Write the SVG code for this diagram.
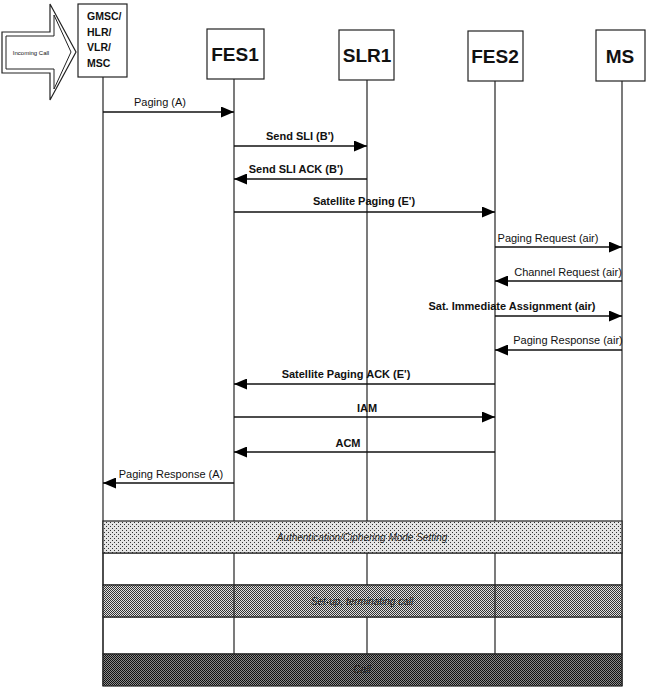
<svg xmlns="http://www.w3.org/2000/svg" width="650" height="688" viewBox="0 0 650 688">
<defs>
<style>
.box{fill:#fff;stroke:#222;stroke-width:1.2}
.life{stroke:#222;stroke-width:1.2;fill:none}
.msg{stroke:#111;stroke-width:1.3;fill:none;marker-end:url(#ah)}
.lb{font-family:"Liberation Sans",Arial,sans-serif;font-size:11px;font-weight:bold;fill:#111;text-anchor:middle}
.lr{font-family:"Liberation Sans",Arial,sans-serif;font-size:11px;fill:#111;text-anchor:middle}
.big{font-family:"Liberation Sans",Arial,sans-serif;font-size:19px;font-weight:bold;fill:#111;text-anchor:middle}
.small{font-family:"Liberation Sans",Arial,sans-serif;font-size:10.5px;font-weight:bold;fill:#111}
.band{stroke:#222;stroke-width:1.2}
.bt{font-family:"Liberation Sans",Arial,sans-serif;font-size:10px;font-style:italic;fill:#222;text-anchor:middle}
.cell{fill:#fff;stroke:#222;stroke-width:1}
</style>
<marker id="ah" markerUnits="userSpaceOnUse" markerWidth="13" markerHeight="11" refX="13" refY="5.5" orient="auto">
<path d="M0,0 L13,5.5 L0,11 z" fill="#000"/>
</marker>
<pattern id="p1" width="4" height="4" patternUnits="userSpaceOnUse">
<rect width="4" height="4" fill="#e4e4e4"/>
<rect x="0" y="0" width="1" height="1" fill="#333"/>
<rect x="2" y="2" width="1" height="1" fill="#333"/>
</pattern>
<pattern id="p2" width="2" height="2" patternUnits="userSpaceOnUse">
<rect width="2" height="2" fill="#e0e0e0"/>
<rect x="0" y="0" width="1" height="1" fill="#333"/>
<rect x="1" y="1" width="1" height="1" fill="#333"/>
</pattern>
<pattern id="p3" width="2" height="2" patternUnits="userSpaceOnUse">
<rect width="2" height="2" fill="#8a8a8a"/>
<rect x="0" y="0" width="1" height="1" fill="#111"/>
<rect x="1" y="1" width="1" height="1" fill="#111"/>
</pattern>
</defs>
<rect width="650" height="688" fill="#fff"/>

<!-- table rows beneath -->
<g id="rows">
<rect class="cell" x="103" y="553" width="519" height="32"/>
<rect class="cell" x="103" y="617" width="519" height="37"/>
</g>

<g id="lifelines">
<line class="life" x1="103" y1="77" x2="103" y2="686"/>
<line class="life" x1="234" y1="79" x2="234" y2="654"/>
<line class="life" x1="367" y1="80" x2="367" y2="654"/>
<line class="life" x1="495" y1="81" x2="495" y2="654"/>
<line class="life" x1="622" y1="81" x2="622" y2="686"/>
</g>

<g id="incoming">
<polygon points="2,32 50,32 50,4 76,52 50,100 50,73 2,73" fill="#fff" stroke="#222" stroke-width="1.2"/>
<polygon points="6,36 54,36 54,15 71,52 54,89 54,69 6,69" fill="none" stroke="#222" stroke-width="1"/>
<text x="31" y="54.5" style="font-family:'Liberation Sans',Arial,sans-serif;font-size:6px;fill:#111;text-anchor:middle">Incoming Call</text>
</g>

<g id="gmsc">
<rect class="box" x="78" y="4" width="49" height="73"/>
<text class="small" x="87" y="20">GMSC/</text>
<text class="small" x="87" y="36">HLR/</text>
<text class="small" x="87" y="51">VLR/</text>
<text class="small" x="87" y="67">MSC</text>
</g>
<g id="fes1">
<rect class="box" x="207" y="29" width="57" height="50"/>
<text class="big" x="235" y="61">FES1</text>
</g>
<g id="slr1">
<rect class="box" x="339" y="30" width="55" height="50"/>
<text class="big" x="367" y="62">SLR1</text>
</g>
<g id="fes2">
<rect class="box" x="468" y="31" width="55" height="50"/>
<text class="big" x="495" y="63">FES2</text>
</g>
<g id="ms">
<rect class="box" x="596" y="30" width="49" height="51"/>
<text class="big" x="620" y="63">MS</text>
</g>

<g id="connectors">
<line class="msg" x1="103" y1="112" x2="234" y2="112"/>
<text class="lr" x="160" y="106">Paging (A)</text>

<line class="msg" x1="234" y1="146" x2="367" y2="146"/>
<text class="lb" x="300" y="140">Send SLI (B')</text>

<line class="msg" x1="367" y1="179" x2="234" y2="179"/>
<text class="lb" x="296" y="173">Send SLI ACK (B')</text>

<line class="msg" x1="234" y1="212" x2="495" y2="212"/>
<text class="lb" x="364" y="205">Satellite Paging (E')</text>

<line class="msg" x1="495" y1="247" x2="622" y2="247"/>
<text class="lr" x="548" y="242">Paging Request (air)</text>

<line class="msg" x1="622" y1="281" x2="495" y2="281"/>
<text class="lr" x="568" y="276">Channel Request (air)</text>

<line class="msg" x1="495" y1="316" x2="622" y2="316"/>
<text class="lb" x="512" y="310">Sat. Immediate Assignment (air)</text>

<line class="msg" x1="622" y1="350" x2="495" y2="350"/>
<text class="lr" x="568" y="344">Paging Response (air)</text>

<line class="msg" x1="495" y1="384" x2="234" y2="384"/>
<text class="lb" x="346" y="378">Satellite Paging ACK (E')</text>

<line class="msg" x1="234" y1="417" x2="495" y2="417"/>
<text class="lb" x="367" y="412">IAM</text>

<line class="msg" x1="495" y1="452" x2="234" y2="452"/>
<text class="lb" x="348" y="447">ACM</text>

<line class="msg" x1="234" y1="483" x2="103" y2="483"/>
<text class="lr" x="171" y="478">Paging Response (A)</text>
</g>

<g id="band1">
<rect class="band" x="103" y="521" width="519" height="32" fill="url(#p1)"/>
<text class="bt" x="362" y="541">Authentication/Ciphering Mode Setting</text>
</g>
<g id="band2">
<rect class="band" x="103" y="585" width="519" height="32" fill="url(#p2)"/>
<line class="life" x1="234" y1="585" x2="234" y2="617"/>
<line class="life" x1="495" y1="585" x2="495" y2="617"/>
<text class="bt" x="362" y="605">Set-up, terminating call</text>
</g>
<g id="band3">
<rect class="band" x="103" y="654" width="519" height="32" fill="url(#p3)"/>
<text class="bt" x="362" y="673">Call</text>
</g>
</svg>
